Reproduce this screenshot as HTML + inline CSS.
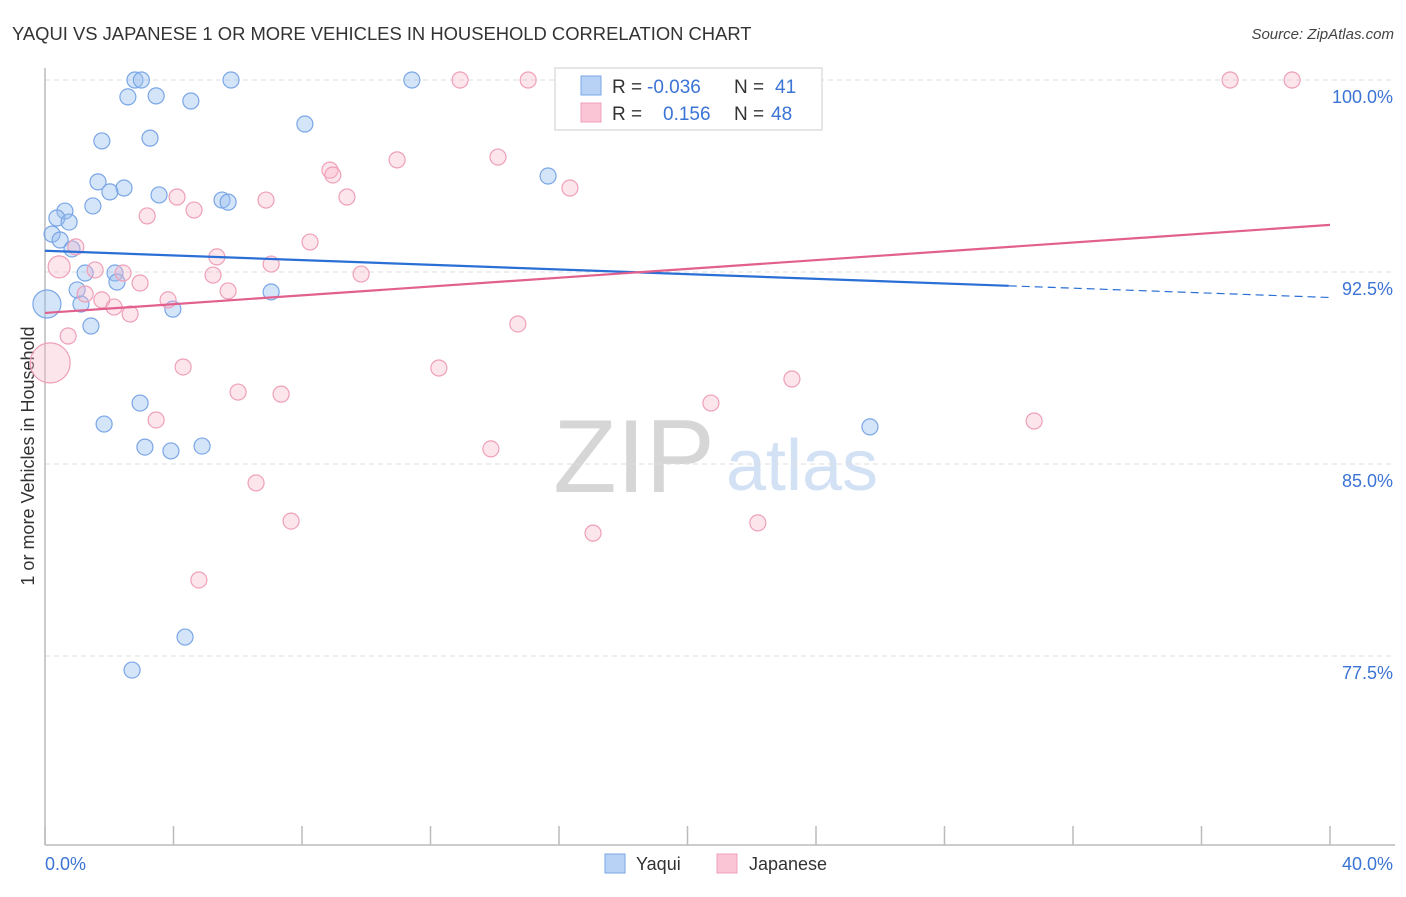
<!DOCTYPE html>
<html><head><meta charset="utf-8"><style>
body{margin:0;background:#fff;font-family:"Liberation Sans",sans-serif;}
svg text{font-family:"Liberation Sans",sans-serif;}
</style></head><body>
<svg id="chart" width="1406" height="892" xmlns="http://www.w3.org/2000/svg">
<text x="12" y="40" font-size="18.4" fill="#333">YAQUI VS JAPANESE 1 OR MORE VEHICLES IN HOUSEHOLD CORRELATION CHART</text>
<text x="1394" y="39" font-size="15" fill="#444" text-anchor="end" font-style="italic">Source: ZipAtlas.com</text>
<g>
<text x="634" y="492" font-size="104" fill="#d6d6d6" font-family="Liberation Serif" text-anchor="middle">ZIP</text>
<text x="802" y="490" font-size="72" fill="#d3e1f5" text-anchor="middle">atlas</text>
</g>
<text transform="translate(34,456) rotate(-90)" font-size="18" fill="#333" text-anchor="middle">1 or more Vehicles in Household</text>
<g id="grid"></g>
<g id="axes"></g>
<g id="marks"></g>
<g id="lines"></g>
<g>
<rect x="555" y="68" width="267" height="62" fill="#fff" stroke="#ddd" stroke-width="1.5"/>
<rect x="581" y="76" width="20" height="19" fill="#b8d2f5" stroke="#7aa6e6"/>
<rect x="581" y="103" width="20" height="19" fill="#fac6d6" stroke="#eea0b8"/>
<text x="612" y="93" font-size="19" fill="#333">R =</text>
<text x="647" y="93" font-size="19" fill="#3b74d4">-0.036</text>
<text x="734" y="93" font-size="19" fill="#333">N =</text>
<text x="775" y="93" font-size="19" fill="#3b74d4">41</text>
<text x="612" y="120" font-size="19" fill="#333">R =</text>
<text x="663" y="120" font-size="19" fill="#3b74d4">0.156</text>
<text x="734" y="120" font-size="19" fill="#333">N =</text>
<text x="771" y="120" font-size="19" fill="#3b74d4">48</text>
</g>
<g>
<rect x="605" y="854" width="20" height="19" fill="#b8d2f5" stroke="#7aa6e6"/>
<text x="636" y="870" font-size="18" fill="#333">Yaqui</text>
<rect x="717" y="854" width="20" height="19" fill="#fac6d6" stroke="#eea0b8"/>
<text x="749" y="870" font-size="18" fill="#333">Japanese</text>
</g>
</svg>
<script>
const yTicks=[100,92.5,85,77.5];
const yTickLabels=["100.0%","92.5%","85.0%","77.5%"];
const xTickVals=[0,4,8,12,16,20,24,28,32,36,40];
const xEndLabels=["0.0%","40.0%"];
const yaquiX=[2.80,3.0,5.79,11.42,2.58,3.46,4.54,1.77,3.27,8.09,1.65,2.46,2.02,3.55,5.51,5.70,15.66,1.49,0.62,0.37,0.75,0.22,0.47,0.84,1.25,2.18,2.24,1.0,1.12,0.06,3.98,7.04,1.43,2.96,1.84,3.11,3.92,4.89,25.68,4.36,2.71];
const yaquiY=[100,100,100,100,99.34,99.38,99.18,97.62,97.73,98.28,96.02,95.78,95.63,95.51,95.31,95.23,96.25,95.08,94.88,94.61,94.45,93.98,93.75,93.40,92.46,92.46,92.11,91.80,91.25,91.25,91.05,91.72,90.39,87.38,86.56,85.66,85.51,85.70,86.45,78.24,76.95];
const yaquiSize=[8,8,8,8,8,8,8,8,8,8,8,8,8,8,8,8,8,8,8,8,8,8,8,8,8,8,8,8,8,14,8,8,8,8,8,8,8,8,8,8,8];
const japX=[12.92,15.04,16.50,36.89,38.82,10.96,14.10,8.87,8.96,16.34,9.40,6.88,4.11,3.18,4.64,0.96,0.44,8.25,5.35,7.04,1.56,2.43,5.23,9.84,2.96,1.25,5.70,1.77,3.83,2.15,2.65,14.72,0.72,0.16,4.30,12.26,6.01,7.35,23.25,20.73,3.46,30.79,13.88,6.57,7.66,22.19,17.06,4.79];
const japY=[100,100,100,100,100,96.88,96.99,96.48,96.29,95.78,95.43,95.31,95.43,94.69,94.92,93.48,92.70,93.67,93.09,92.81,92.58,92.46,92.38,92.42,92.07,91.64,91.76,91.41,91.41,91.13,90.86,90.47,90.0,88.95,88.79,88.75,87.81,87.73,88.32,87.38,86.72,86.68,85.59,84.26,82.77,82.70,82.30,80.47];
const japSize=[8,8,8,8,8,8,8,8,8,8,8,8,8,8,8,8,11,8,8,8,8,8,8,8,8,8,8,8,8,8,8,8,8,20,8,8,8,8,8,8,8,8,8,8,8,8,8,8];
const yaquiTrend=[93.33,91.96,30.0];
const japTrend=[90.9,94.34];
const NS="http://www.w3.org/2000/svg";
function X(v){return 45+v*1285/40;}
function Y(v){return 80+(100-v)*25.6;}
function mk(tag,attrs,parent){const e=document.createElementNS(NS,tag);for(const k in attrs)e.setAttribute(k,attrs[k]);document.getElementById(parent).appendChild(e);return e;}
yTicks.forEach((t,i)=>{
 const g=mk('line',{x1:45,x2:1395,y1:Y(t),y2:Y(t),stroke:'#ddd','stroke-dasharray':'5,4'},'grid');
 
 
 const l=mk('text',{x:1393,y:Y(t)+23,'font-size':18,fill:'#3b74d4','text-anchor':'end'},'axes');
 l.textContent=yTickLabels[i];
 
 
});
const ya=mk('line',{x1:45,x2:45,y1:68,y2:845,stroke:'#bbb','stroke-width':1.5},'axes');


const xa=mk('line',{x1:45,x2:1395,y1:845,y2:845,stroke:'#bbb','stroke-width':1.5},'axes');


xTickVals.forEach(v=>{
 const t=mk('line',{x1:X(v),x2:X(v),y1:826,y2:845,stroke:'#bbb','stroke-width':1.5},'axes');
 
 
});
const xl0=mk('text',{x:45,y:870,'font-size':18,fill:'#3b74d4'},'axes');xl0.textContent=xEndLabels[0];


const xl1=mk('text',{x:1393,y:870,'font-size':18,fill:'#3b74d4','text-anchor':'end'},'axes');xl1.textContent=xEndLabels[1];


yaquiX.forEach((x,i)=>{
 const c=mk('circle',{cx:X(x),cy:Y(yaquiY[i]),r:yaquiSize[i],fill:'rgba(150,190,240,0.4)',stroke:'#7aa6e6','stroke-width':1.2},'marks');
 
 
});
japX.forEach((x,i)=>{
 const c=mk('circle',{cx:X(x),cy:Y(japY[i]),r:japSize[i],fill:'rgba(248,180,200,0.35)',stroke:'#eea0b8','stroke-width':1.2},'marks');
 
 
});
const yEnd=yaquiTrend[1];
const ySlope=(yaquiTrend[1]-yaquiTrend[0])/yaquiTrend[2];
const b1=mk('line',{x1:X(0),y1:Y(yaquiTrend[0]),x2:X(yaquiTrend[2]),y2:Y(yEnd),stroke:'#2a6fd6','stroke-width':2.2},'lines');


const b2=mk('line',{x1:X(yaquiTrend[2]),y1:Y(yEnd),x2:X(40),y2:Y(yaquiTrend[0]+ySlope*40),stroke:'#2a6fd6','stroke-width':1.2,'stroke-dasharray':'8,5'},'lines');


const p1=mk('line',{x1:X(0),y1:Y(japTrend[0]),x2:X(40),y2:Y(japTrend[1]),stroke:'#e2608e','stroke-width':2.2},'lines');


</script>
</body></html>
